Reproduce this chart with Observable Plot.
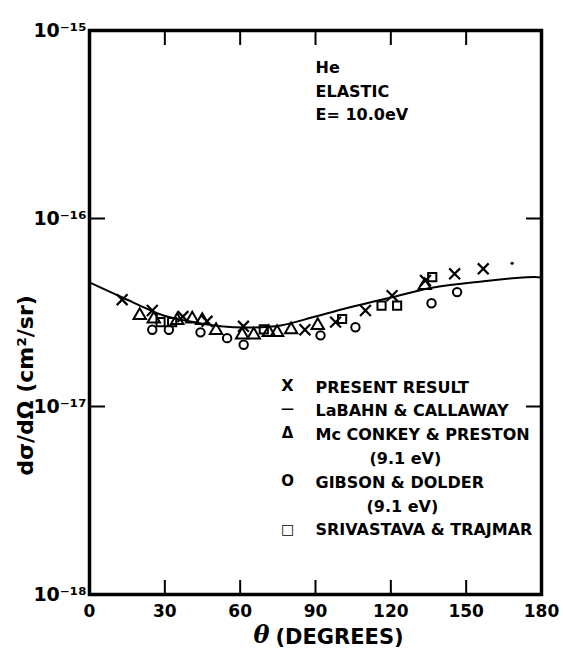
<!DOCTYPE html>
<html>
<head>
<meta charset="utf-8">
<script src="https://cdn.jsdelivr.net/npm/d3@7"></script>
<script src="https://cdn.jsdelivr.net/npm/@observablehq/plot@0.6"></script>
<style>
  html, body { margin: 0; padding: 0; background: #fff; }
</style>
</head>
<body>
<div id="chart"></div>
<script>
// ---- data ----
// Present result (X)
const presentTheta = [13.0, 25.0, 37.2, 46.8, 61.3, 85.8, 98.0, 109.9, 120.5, 133.8, 145.4, 156.8];
const presentDcs   = [3.70e-17, 3.24e-17, 3.01e-17, 2.84e-17, 2.67e-17, 2.56e-17, 2.81e-17, 3.24e-17, 3.89e-17, 4.68e-17, 5.08e-17, 5.40e-17];
// small extra dot near 168 deg
const dotTheta = [168.3];
const dotDcs   = [5.78e-17];
// LaBahn & Callaway (curve)
const theoryTheta = [0, 13.1, 29.5, 40.2, 52.2, 64.1, 76.1, 90.0, 105.0, 120.0, 137.0, 157.0, 170.0, 177.0, 180.0];
const theoryDcs   = [4.57e-17, 3.80e-17, 3.05e-17, 2.83e-17, 2.67e-17, 2.63e-17, 2.70e-17, 3.01e-17, 3.40e-17, 3.80e-17, 4.30e-17, 4.64e-17, 4.82e-17, 4.88e-17, 4.86e-17];
// McConkey & Preston (triangles)
const mcTheta = [20.0, 25.6, 34.9, 40.9, 44.9, 50.4, 60.8, 65.4, 71.4, 74.7, 80.3, 90.9, 133.5];
const mcDcs   = [3.05e-17, 2.92e-17, 2.87e-17, 2.92e-17, 2.87e-17, 2.54e-17, 2.40e-17, 2.40e-17, 2.48e-17, 2.48e-17, 2.56e-17, 2.70e-17, 4.40e-17];
// Gibson & Dolder (circles)
const gdTheta = [25.0, 31.6, 44.2, 54.8, 61.4, 92.0, 105.9, 136.2, 146.4];
const gdDcs   = [2.56e-17, 2.56e-17, 2.48e-17, 2.31e-17, 2.13e-17, 2.39e-17, 2.64e-17, 3.54e-17, 4.06e-17];
// Srivastava & Trajmar (squares)
const stTheta = [28.3, 32.9, 69.4, 100.6, 116.3, 122.5, 136.5];
const stDcs   = [2.81e-17, 2.81e-17, 2.57e-17, 2.92e-17, 3.44e-17, 3.44e-17, 4.88e-17];

// ticks
const xTickValues = [0, 30, 60, 90, 120, 150, 180];
const xInnerTicks = [30, 60, 90, 120, 150];
const yTickValues = [1e-18, 1e-17, 1e-16, 1e-15];
const yInnerTicks = [1e-17, 1e-16];

// texts
const annotationLines = ["He", "ELASTIC", "E= 10.0eV"];
const legendLabels = [
  {text: "PRESENT RESULT", indent: 0, sym: "X", symSize: 16, symDy: -7},
  {text: "LaBAHN & CALLAWAY", indent: 0, sym: "\u2014", symSize: 13, symDy: -7},
  {text: "Mc CONKEY & PRESTON", indent: 0, sym: "\u0394", symSize: 15, symDy: -7},
  {text: "(9.1 eV)", indent: 54, sym: "", symSize: 13, symDy: 0},
  {text: "GIBSON & DOLDER", indent: 0, sym: "O", symSize: 15, symDy: -7},
  {text: "(9.1 eV)", indent: 51, sym: "", symSize: 13, symDy: 0},
  {text: "SRIVASTAVA & TRAJMAR", indent: 0, sym: "\u25A1", symSize: 14, symDy: -6}
];

// ---- layout ----
const W = 563, H = 650;
const mL = 89, mR = 22, mT = 30, mB = 56;
const plotW = W - mL - mR, plotH = H - mT - mB;

const supMap = {"-": "\u207B", "0": "\u2070", "1": "\u00B9", "2": "\u00B2", "3": "\u00B3", "4": "\u2074", "5": "\u2075", "6": "\u2076", "7": "\u2077", "8": "\u2078", "9": "\u2079"};
const sup = s => String(s).split("").map(c => supMap[c] || c).join("");
const powFmt = d => "10" + sup(Math.round(Math.log10(d)));

const legendStep = 23.8;
const legendTop = 392 - mT; // baseline of first row relative to frame top
const legendTextX = 315 - mL;
const legendSymX = 287 - mL;

const legendMarks = [];
legendLabels.forEach((r, i) => {
  legendMarks.push(Plot.text([r.text], {
    frameAnchor: "top-left", text: d => d, textAnchor: "start", lineAnchor: "bottom",
    dx: legendTextX + r.indent, dy: legendTop + i * legendStep, fontSize: 16
  }));
  if (r.sym) {
    legendMarks.push(Plot.text([r.sym], {
      frameAnchor: "top-left", text: d => d, textAnchor: "middle", lineAnchor: "middle",
      dx: legendSymX, dy: legendTop + i * legendStep + r.symDy, fontSize: r.symSize
    }));
  }
});

const chart = Plot.plot({
  width: W, height: H,
  marginLeft: mL, marginRight: mR, marginTop: mT, marginBottom: mB,
  style: {fontFamily: "'DejaVu Sans', sans-serif", fontWeight: "bold", fontSize: "16px", color: "#000", background: "#fff"},
  x: {domain: [0, 180]},
  y: {type: "log", domain: [1e-18, 1e-15]},
  marks: [
    // inner ticks
    Plot.ruleX(xInnerTicks, {x: d => d, insetTop: plotH - 14, strokeWidth: 2}),
    Plot.ruleX(xInnerTicks, {x: d => d, insetBottom: plotH - 15, strokeWidth: 2}),
    Plot.ruleY(yInnerTicks, {y: d => d, insetRight: plotW - 16, strokeWidth: 2}),
    Plot.ruleY(yInnerTicks, {y: d => d, insetLeft: plotW - 15, strokeWidth: 2}),
    // axes labels
    Plot.axisX({ticks: xTickValues, tickSize: 0, tickPadding: 10, fontSize: 17, label: null, tickFormat: d => String(d)}),
    Plot.axisY({ticks: yTickValues, tickSize: 0, tickPadding: 3, fontSize: 19, dy: 0, label: null, tickFormat: powFmt}),
    // theory curve
    Plot.line(theoryDcs, {x: theoryTheta, y: theoryDcs, curve: "catmull-rom", stroke: "#000", strokeWidth: 2}),
    // experimental data
    Plot.dot(mcDcs, {x: mcTheta, y: mcDcs, symbol: "triangle", r: 4.6, stroke: "#000", strokeWidth: 2}),
    Plot.dot(gdDcs, {x: gdTheta, y: gdDcs, symbol: "circle", r: 4.2, stroke: "#000", strokeWidth: 2}),
    Plot.dot(stDcs, {x: stTheta, y: stDcs, symbol: "square", r: 4.6, stroke: "#000", strokeWidth: 2}),
    Plot.dot(presentDcs, {x: presentTheta, y: presentDcs, symbol: "times", r: 5, stroke: "#000", strokeWidth: 2.2}),
    Plot.dot(dotDcs, {x: dotTheta, y: dotDcs, r: 1.6, fill: "#000", stroke: null}),
    // frame
    Plot.frame({stroke: "#000", strokeWidth: 3.5}),
    // annotation
    Plot.text([annotationLines.join("\n")], {
      frameAnchor: "top-left", text: d => d, textAnchor: "start", lineAnchor: "top",
      lineHeight: 1.47, dx: 315 - mL, dy: 56 - mT, fontSize: 16
    }),
    ...legendMarks,
    // axis titles
    Plot.text(["\u03B8"], {frameAnchor: "bottom", text: d => d, textAnchor: "middle", lineAnchor: "bottom",
      dx: -54, dy: 48, fontSize: 24, fontStyle: "italic", fontFamily: "'DejaVu Serif', serif"}),
    Plot.text(["(DEGREES)"], {frameAnchor: "bottom", text: d => d, textAnchor: "middle", lineAnchor: "bottom",
      dx: 24, dy: 49, fontSize: 21}),
    Plot.text(["d\u03C3/d\u03A9 (cm\u00B2/sr)"], {frameAnchor: "left", text: d => d, textAnchor: "middle", lineAnchor: "middle",
      rotate: -90, dx: 25 - mL, dy: 385 - (mT + plotH / 2), fontSize: 22})
  ]
});
document.getElementById("chart").appendChild(chart);
</script>
</body>
</html>
